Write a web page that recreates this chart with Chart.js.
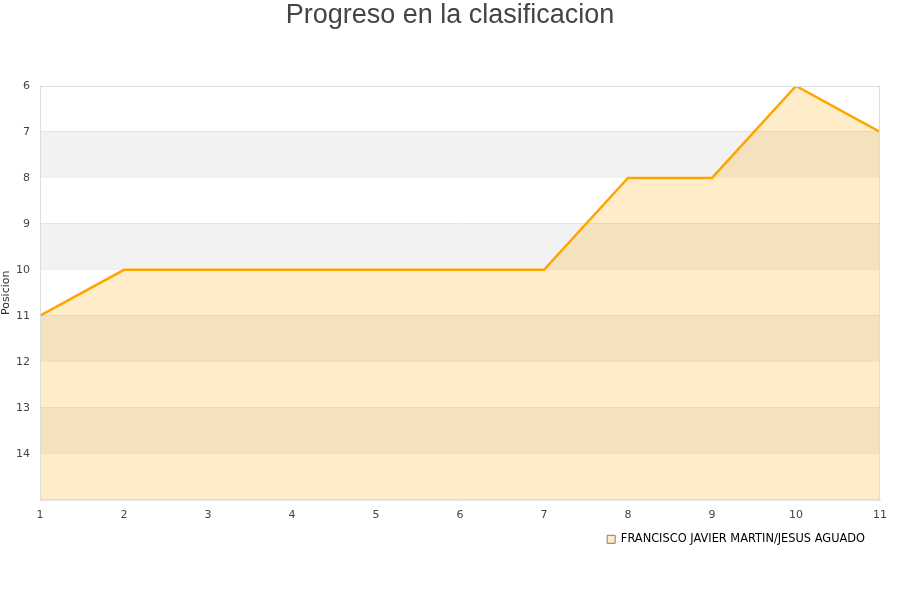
<!DOCTYPE html>
<html>
<head>
<meta charset="utf-8">
<script src="https://cdn.jsdelivr.net/npm/chart.js@4/dist/chart.umd.min.js"></script>
<style>
  body { margin: 0; background: #fff; }
  #wrap { width: 900px; height: 600px; }
</style>
</head>
<body>
<div id="wrap"><canvas id="myChart"></canvas></div>
<script>
// Jornadas y posicion en la clasificacion
const jornadas = [1, 2, 3, 4, 5, 6, 7, 8, 9, 10, 11];
const posiciones = [11, 10, 10, 10, 10, 10, 10, 8, 8, 6, 7];
const equipo = 'FRANCISCO JAVIER MARTIN/JESUS AGUADO';
const titulo = 'Progreso en la clasificacion';
const yTicks = [6, 7, 8, 9, 10, 11, 12, 13, 14];

// Alternating grey bands behind the data
const bands = {
  id: 'bands',
  beforeDatasetsDraw(chart) {
    const { ctx, chartArea: a, scales: { y } } = chart;
    ctx.save();
    ctx.fillStyle = '#f2f2f2';
    for (let v = 7; v < 15; v += 2) {
      const t = y.getPixelForValue(v);
      const b = y.getPixelForValue(v + 1);
      ctx.fillRect(a.left, t, a.right - a.left, b - t);
    }
    ctx.restore();
  }
};

// plot frame + title centred on the whole canvas
const frame = {
  id: 'frame',
  afterDraw(chart) {
    const { ctx, chartArea: a } = chart;
    ctx.save();
    ctx.strokeStyle = '#ddd';
    ctx.lineWidth = 1;
    ctx.strokeRect(a.left + 0.5, a.top + 0.5, a.right - a.left - 1, a.bottom - a.top);
    ctx.fillStyle = '#444';
    ctx.font = '27px "Liberation Sans", Arial, sans-serif';
    ctx.textAlign = 'center';
    ctx.textBaseline = 'middle';
    ctx.fillText(titulo, chart.width / 2, 16);
    ctx.restore();
  }
};

const ctx = document.getElementById('myChart');
new Chart(ctx, {
  type: 'line',
  data: {
    labels: jornadas,
    datasets: [{
      label: equipo,
      data: posiciones,
      borderColor: '#ffa500',
      borderWidth: 2.5,
      backgroundColor: 'rgba(255,165,0,0.21)',
      fill: { value: 15 },
      tension: 0,
      pointRadius: 0
    }]
  },
  plugins: [bands, frame],
  options: {
    responsive: true,
    maintainAspectRatio: false,
    animation: false,
    layout: { padding: { left: 0, right: 20, top: 86, bottom: 45 } },
    plugins: {
      title: { display: false },
      legend: {
        position: 'bottom',
        align: 'end',
        labels: {
          color: '#000',
          font: { family: 'DejaVu Sans', size: 11.4 },
          boxWidth: 8,
          boxHeight: 8,
          padding: 15,
          generateLabels(chart) {
            return [{
              text: equipo,
              fillStyle: 'rgba(255,235,200,1)',
              strokeStyle: '#8a7a60',
              lineWidth: 1,
              datasetIndex: 0
            }];
          }
        }
      },
      tooltip: { enabled: false }
    },
    scales: {
      x: {
        type: 'linear',
        min: 1,
        max: 11,
        afterFit(s) { s.height = 19; },
        ticks: {
          stepSize: 1,
          color: '#444',
          font: { family: 'DejaVu Sans', size: 11 },
          maxRotation: 0,
          padding: 9
        },
        grid: { display: false, drawTicks: false },
        border: { color: '#ddd' }
      },
      y: {
        reverse: true,
        min: 6,
        max: 15,
        afterFit(s) { s.width = 40; },
        afterBuildTicks(s) { s.ticks = yTicks.map(v => ({ value: v })); },
        title: {
          display: true,
          text: 'Posicion',
          color: '#333',
          font: { family: 'DejaVu Sans', size: 11 },
          padding: 0
        },
        ticks: {
          color: '#444',
          font: { family: 'DejaVu Sans', size: 11 },
          padding: 10
        },
        grid: { color: '#e2e2e2', drawTicks: false },
        border: { color: '#ddd' }
      }
    }
  }
});
</script>
</body>
</html>
